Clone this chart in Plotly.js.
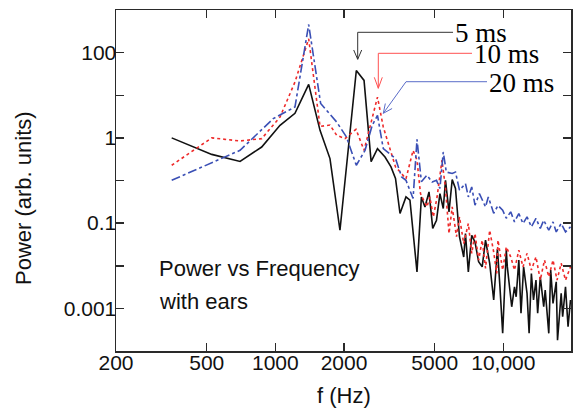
<!DOCTYPE html>
<html>
<head>
<meta charset="utf-8">
<script src="https://cdn.plot.ly/plotly-3.0.1.min.js"></script>
<style>html,body{margin:0;padding:0;background:#fff}#chart{width:573px;height:412px}</style>
</head>
<body>
<div id="chart"></div>
<script>
// ---- data ----
const f5 = [351,526,700,871,1048,1219,1400,1570,1736,1920,2265,2449,2630,2805,3027,3215,3365,3521,3740,3893,4180,4370,4530,4720,4900,5090,5270,5450,5575,5775,5965,6166,6420,6700,6820,7020,7265,7510,7790,8075,8350,8710,9070,9420,9660,9930,10300,10410,10880,11190,11380,11690,11950,12270,12700,12970,13270,13560,13900,14140,14520,15030,15260,15820,16130,16510,17060,17280,17930,18200,18730,19220,19700];
const p5 = [1.0,0.41,0.28,0.61,1.97,3.77,18,1.5,0.327,0.0068,38,22.3,0.277,0.56,0.356,0.208,0.112,0.0168,0.0412,0.0345,0.00072,0.041,0.024,0.054,0.0075,0.0117,0.0494,0.022,0.101,0.0184,0.105,0.065,0.0048,0.0016,0.0057,0.00072,0.0052,0.0036,0.00124,0.00094,0.004,0.00114,0.000157,0.0025,0.00032,0.000026,0.00232,0.00094,0.000109,0.00032,0.000187,0.00136,0.0000766,0.00094,0.000225,0.000026,0.00066,0.000157,0.00046,0.0000766,0.00055,0.000109,0.00027,0.000026,0.00079,0.000131,0.00042,0.000018,0.000225,0.0000637,0.00032,0.0000372,0.000157];

const f10 = [351,526,700,871,1048,1219,1400,1570,1736,1858,2020,2258,2449,2614,2805,2974,3215,3365,3521,3740,4018,4180,4330,4620,4760,4930,5120,5380,5575,5775,5965,6230,6420,6700,7020,7265,7510,7790,8075,8350,8710,9070,9350,9470,9930,10300,10770,11190,11690,12190,12700,13270,13900,14520,15150,15820,16510,17200,17930,18730,19700];
const p10 = [0.228,1.0,0.845,0.96,3.08,20.4,211,1.85,2.0,1.15,0.96,1.59,0.51,2.16,9.06,1.8,0.43,0.208,0.16,0.11,0.51,0.30,0.0494,0.024,0.041,0.014,0.041,0.30,0.065,0.0057,0.024,0.0048,0.014,0.0033,0.0098,0.00195,0.0057,0.00136,0.004,0.00087,0.0068,0.0021,0.00066,0.004,0.00079,0.00278,0.00162,0.00079,0.00232,0.00094,0.00195,0.00079,0.00162,0.00046,0.00136,0.00055,0.00136,0.00046,0.00114,0.00046,0.00094];

const f20 = [351,700,979,1219,1400,1580,1858,2050,2265,2473,2660,2805,2974,3365,3580,3740,4018,4180,4370,4620,4870,5090,5270,5450,5620,5965,6166,6420,6820,7020,7265,7510,7850,8350,8590,9070,9470,9930,10300,10770,11190,11690,12190,12700,13270,13900,14520,15030,15820,16510,17060,17930,18730,19700];
const p20 = [0.101,0.51,2.83,5.3,457,6.4,2.35,1.05,0.228,0.51,1.97,3.38,0.56,0.327,0.121,0.101,0.0378,0.92,0.094,0.133,0.0925,0.101,0.065,0.467,0.158,0.146,0.158,0.0592,0.085,0.0412,0.0706,0.0264,0.0494,0.024,0.0412,0.017,0.026,0.02,0.013,0.0184,0.0107,0.0168,0.0098,0.014,0.0082,0.0129,0.0075,0.0117,0.0068,0.0107,0.0062,0.0098,0.0062,0.0082];

const seriesNames = ['5 ms','10 ms','20 ms'];
const xTickVals = [200,500,1000,2000,5000,10000];
const xTickText = ['200','500','1000','2000','5000','10,000'];
const yTickVals = [1e2,1e1,1e0,1e-1,1e-2,1e-3,1e-4];
const yTickText = ['100','','1','','0.1','','0.001'];

// ---- layout helpers (pixel -> paper) ----
const L = 116, R = 2, T = 10, B = 61, WW = 573, HH = 412;
const PW = WW - L - R, PH = HH - T - B;
const X = px => (px - L) / PW;
const Y = py => (T + PH - py) / PH;
const path = pts => pts.map((p, i) => (i ? 'L' : 'M') + X(p[0]).toFixed(4) + ',' + Y(p[1]).toFixed(4)).join(' ');

const sans = 'Liberation Sans, Arial, Helvetica, sans-serif';
const serif = 'Liberation Serif, Times New Roman, serif';

const traces = [
  {x: f5, y: p5, name: seriesNames[0], mode: 'lines', line: {color: '#111111', width: 1.6, dash: 'solid'}},
  {x: f10, y: p10, name: seriesNames[1], mode: 'lines', line: {color: '#ee2a2a', width: 1.6, dash: 'dot'}},
  {x: f20, y: p20, name: seriesNames[2], mode: 'lines', line: {color: '#3a4fb5', width: 1.6, dash: 'dashdot'}}
];

const axisCommon = {
  showgrid: false, zeroline: false, showline: true, mirror: 'ticks',
  linecolor: '#2a2a2a', linewidth: 1.5, ticks: 'inside', ticklen: 8, tickwidth: 1.5, tickcolor: '#2a2a2a',
  tickfont: {family: sans, size: 21, color: '#111'}
};

const layout = {
  width: WW, height: HH,
  margin: {l: L, r: R, t: T, b: B, pad: 0},
  paper_bgcolor: '#fff', plot_bgcolor: '#fff',
  showlegend: false,
  xaxis: Object.assign({}, axisCommon, {
    type: 'log', range: [Math.log10(200), Math.log10(19800)],
    tickmode: 'array', tickvals: xTickVals, ticktext: xTickText, ticklabelstandoff: -8
  }),
  yaxis: Object.assign({}, axisCommon, {
    type: 'log', range: [-5, 3],
    tickmode: 'array', tickvals: yTickVals, ticktext: yTickText, ticklabelstandoff: -6
  }),
  shapes: [
    {type: 'path', xref: 'paper', yref: 'paper', path: path([[453,32.3],[357.7,32.3],[357.7,59.3]]), line: {color: '#333', width: 1}},
    {type: 'path', xref: 'paper', yref: 'paper', path: path([[353.7,50],[357.7,59.3],[361.7,50]]), line: {color: '#333', width: 1}},
    {type: 'path', xref: 'paper', yref: 'paper', path: path([[472,53.3],[378.3,53.3],[378.3,88.3]]), line: {color: '#ff5050', width: 1}},
    {type: 'path', xref: 'paper', yref: 'paper', path: path([[374.3,77.3],[378.3,88.3],[382.3,77.3]]), line: {color: '#ff5050', width: 1}},
    {type: 'path', xref: 'paper', yref: 'paper', path: path([[487,81.7],[406,81.7],[383.3,113.3]]), line: {color: '#5a6cc8', width: 1}},
    {type: 'path', xref: 'paper', yref: 'paper', path: path([[392.1,108.5],[383.3,113.3],[385.3,103.5]]), line: {color: '#5a6cc8', width: 1}}
  ],
  annotations: [
    {xref: 'paper', yref: 'paper', x: X(454), y: Y(32.5), xanchor: 'left', yanchor: 'middle', showarrow: false, borderpad: 0, text: seriesNames[0], font: {family: serif, size: 27, color: '#000'}},
    {xref: 'paper', yref: 'paper', x: X(473), y: Y(54), xanchor: 'left', yanchor: 'middle', showarrow: false, borderpad: 0, text: seriesNames[1], font: {family: serif, size: 27, color: '#000'}},
    {xref: 'paper', yref: 'paper', x: X(488), y: Y(82.5), xanchor: 'left', yanchor: 'middle', showarrow: false, borderpad: 0, text: seriesNames[2], font: {family: serif, size: 27, color: '#000'}},
    {xref: 'paper', yref: 'paper', x: X(157), y: Y(268.5), xanchor: 'left', yanchor: 'middle', showarrow: false, text: 'Power vs Frequency', font: {family: sans, size: 22, color: '#111'}},
    {xref: 'paper', yref: 'paper', x: X(157), y: Y(301), xanchor: 'left', yanchor: 'middle', showarrow: false, text: 'with ears', font: {family: sans, size: 22, color: '#111'}},
    {xref: 'paper', yref: 'paper', x: X(343.5), y: Y(396), xanchor: 'center', yanchor: 'middle', showarrow: false, text: 'f (Hz)', font: {family: sans, size: 22, color: '#111'}},
    {xref: 'paper', yref: 'paper', x: X(24), y: Y(198), xanchor: 'center', yanchor: 'middle', showarrow: false, textangle: -90, text: 'Power (arb. units)', font: {family: sans, size: 22, color: '#111'}}
  ]
};

Plotly.newPlot('chart', traces, layout, {staticPlot: true, displayModeBar: false});
</script>
</body>
</html>
